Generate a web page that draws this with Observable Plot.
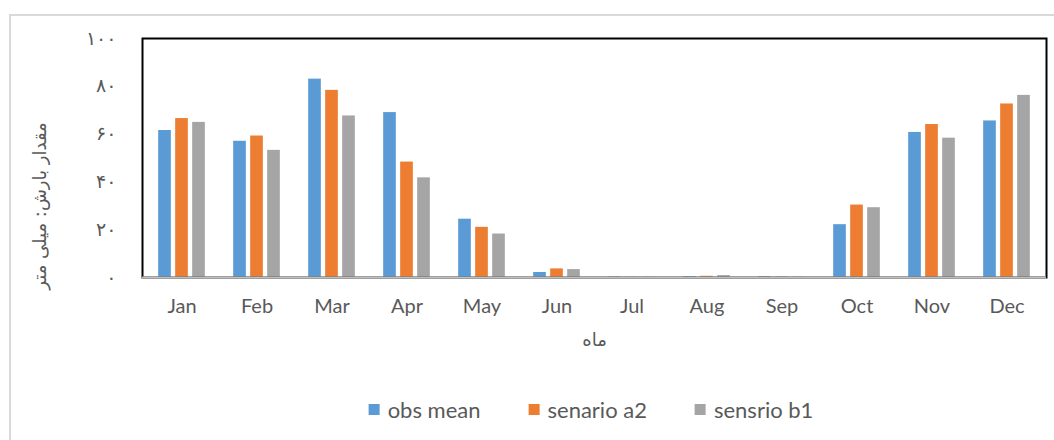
<!DOCTYPE html>
<html>
<head>
<meta charset="utf-8">
<script src="https://cdn.jsdelivr.net/npm/d3@7"></script>
<script src="https://cdn.jsdelivr.net/npm/@observablehq/plot@0.6"></script>
<style>
  html, body { margin: 0; padding: 0; background: #fff; width: 1054px; height: 440px; overflow: hidden; position: relative; }
  #border { position: absolute; left: 9px; top: 14px; width: 1060px; height: 440px; border-left: 2px solid #d9d9d9; border-top: 2px solid #d9d9d9; box-sizing: border-box; }
  #chart { position: absolute; left: 0; top: 0; }
  #legend { position: absolute; top: 396px; left: 591px; transform: translateX(-50%); display: flex; gap: 48px; white-space: nowrap;
            font-family: Lato, "Open Sans", sans-serif; font-size: 22px; color: #595959; }
  .item { display: flex; align-items: center; gap: 8px; }
  .sw { width: 11px; height: 11px; display: inline-block; }
</style>
</head>
<body>
<div id="border"></div>
<div id="chart"></div>
<div id="legend"></div>
<script>
const months = ["Jan","Feb","Mar","Apr","May","Jun","Jul","Aug","Sep","Oct","Nov","Dec"];
const obsMean   = [61.5, 57.0, 83.0, 69.0, 24.4, 2.1, 0.2, 0.4, 0.4, 22.1, 60.7, 65.5];
const senarioA2 = [66.5, 59.2, 78.3, 48.3, 21.0, 3.6, 0.1, 0.5, 0.2, 30.3, 64.0, 72.6];
const sensrioB1 = [64.9, 53.2, 67.6, 41.7, 18.2, 3.3, 0.1, 0.8, 0.1, 29.2, 58.3, 76.2];
const seriesNames = ["obs mean", "senario a2", "sensrio b1"];
const seriesColors = ["#5b9bd5", "#ed7d31", "#a5a5a5"];
const yTicks = [0, 20, 40, 60, 80, 100];
const yTitle = "مقدار بارش: میلی متر";
const xTitle = "ماه";

const faDigits = "۰۱۲۳۴۵۶۷۸۹";
const toFa = n => String(n).replace(/\d/g, d => faDigits[d]);

const seriesValues = [obsMean, senarioA2, sensrioB1];
const rows = seriesValues.map(vals => months.map((m, i) => ({month: m, value: vals[i]})));

const W = 1054, H = 380;
const mL = 142, mR = 8, mT = 38, mB = 103;
const band = (W - mL - mR) / months.length;
const barW = 13, step = 17;
const inset = (band - barW) / 2;

const barMarks = rows.map((data, k) =>
  Plot.barY(data, {x: "month", y: "value", fill: seriesColors[k],
    insetLeft: inset, insetRight: inset, dx: (k - 1) * step})
);

const plot = Plot.plot({
  width: W, height: H,
  marginLeft: mL, marginRight: mR, marginTop: mT, marginBottom: mB,
  style: {fontFamily: "Lato, 'Open Sans', sans-serif", color: "#595959", background: "transparent"},
  x: {domain: months, padding: 0, axis: null},
  y: {domain: [0, 100], axis: null},
  marks: [
    ...barMarks,
    Plot.frame({stroke: "#000", strokeWidth: 2}),
    Plot.ruleY([0], {stroke: "#bfbfbf", strokeWidth: 2}),
    Plot.axisX({tickSize: 0, tickPadding: 21, fontSize: 20, fill: "#595959", label: null}),
    Plot.axisY(yTicks, {tickSize: 0, tickPadding: 26, fontSize: 19, fill: "#595959",
      fontFamily: "'DejaVu Sans', sans-serif", tickFormat: toFa, label: null}),
    Plot.text([xTitle], {frameAnchor: "bottom", dy: 68, fontSize: 18, fill: "#595959",
      fontFamily: "'DejaVu Sans', sans-serif"}),
    Plot.text([yTitle], {frameAnchor: "left", textAnchor: "middle", dx: -102, dy: 48, rotate: -90, fontSize: 18, fill: "#595959",
      fontFamily: "'DejaVu Sans', sans-serif"})
  ]
});
document.getElementById("chart").appendChild(plot);

const legend = document.getElementById("legend");
seriesNames.forEach((name, k) => {
  const item = document.createElement("div");
  item.className = "item";
  const sw = document.createElement("span");
  sw.className = "sw";
  sw.style.background = seriesColors[k];
  const label = document.createElement("span");
  label.textContent = name;
  item.appendChild(sw);
  item.appendChild(label);
  legend.appendChild(item);
});
</script>
</body>
</html>
